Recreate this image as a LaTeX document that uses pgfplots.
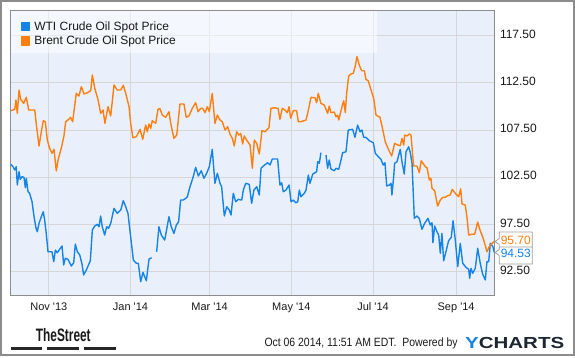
\documentclass[border=0pt]{standalone}
\usepackage{fontspec}
\setmainfont{Liberation Sans}
\usepackage{pgfplots}
\pgfplotsset{compat=1.18}
\definecolor{wti}{RGB}{22,132,230}
\definecolor{brent}{RGB}{255,127,14}
\definecolor{plotbg}{RGB}{234,240,251}
\definecolor{gridc}{RGB}{214,214,214}
\definecolor{framec}{RGB}{140,140,140}
\definecolor{ydark}{RGB}{27,38,49}

\pgfplotstableread{
d v
2.6 103.87
4.3 103.62
5.6 103.27
6.7 103.62
7.5 101.68
8.8 103.09
9.7 102.28
11.0 102.56
12.5 102.49
13.5 101.39
14.2 102.39
15.5 100.97
16.7 100.80
18.5 99.91
20.0 98.32
21.5 97.09
22.4 96.73
23.7 97.62
25.4 98.32
26.9 98.85
27.9 97.97
29.1 96.56
30.4 94.61
33.4 94.61
34.7 93.56
35.9 94.79
37.3 94.51
39.1 94.87
40.9 95.22
42.1 93.21
43.3 93.92
45.3 93.81
47.8 93.10
49.6 93.45
50.8 95.43
52.3 94.61
54.1 94.27
55.8 93.31
57.0 92.15
59.0 92.68
62.0 93.66
63.5 96.91
65.3 97.34
67.2 97.52
68.5 97.26
69.7 98.40
70.9 97.26
72.7 96.38
74.2 97.26
75.6 97.09
77.2 97.62
79.7 99.21
82.1 98.68
84.7 99.03
86.6 100.02
88.4 99.38
90.1 98.68
92.1 96.20
94.1 93.74
96.3 93.39
97.8 93.39
99.6 91.44
101.3 92.43
103.8 91.54
105.8 93.84
107.8 93.98
109.6 nan
111.5 94.61
113.2 97.26
115.0 96.38
117.5 95.85
120.7 98.32
122.4 97.26
124.4 96.56
126.2 97.44
127.9 97.79
129.4 100.09
131.4 100.09
133.2 100.27
134.4 100.44
136.4 101.50
138.8 102.56
140.6 103.55
142.6 102.63
144.8 103.19
146.8 102.39
148.8 102.92
150.8 103.62
153.0 105.46
155.0 101.86
156.8 102.92
158.8 101.86
160.0 101.50
162.0 98.40
163.8 99.38
165.7 99.03
167.0 98.50
168.7 100.80
170.5 99.91
172.4 100.16
175.0 100.09
176.2 101.15
178.0 101.86
180.6 101.75
182.4 99.74
184.1 101.15
186.2 101.50
188.1 100.62
189.4 103.45
191.1 103.69
193.1 103.90
194.4 104.04
196.1 103.80
197.8 104.43
201.8 104.43
203.5 101.68
204.8 101.92
206.0 100.97
208.0 101.15
210.3 101.68
211.8 99.91
213.5 100.09
215.3 99.80
216.8 99.91
218.0 101.15
219.2 100.44
221.7 100.80
223.0 101.15
224.7 102.74
225.9 101.86
228.0 102.84
229.7 102.98
230.9 103.09
231.7 104.15
232.9 103.98
234.1 105.10
236.0 nan
237.9 104.86
239.1 103.45
240.3 104.33
241.6 103.37
244.1 103.19
245.3 103.45
247.4 103.34
249.1 104.33
250.3 105.10
252.8 105.20
254.5 107.50
257.8 107.58
259.5 106.73
261.5 108.03
263.3 107.32
264.7 107.50
266.0 106.73
267.7 106.73
270.2 106.37
273.2 106.16
274.7 105.04
276.5 104.75
278.9 104.40
280.6 103.80
281.9 104.04
283.2 101.57
285.1 101.68
286.4 101.86
287.1 100.62
288.4 102.56
289.1 103.98
290.9 104.15
293.3 105.46
294.6 104.15
296.3 102.84
297.6 105.20
299.6 105.73
300.8 105.10
302.1 103.98
303.8 98.15
305.8 98.40
307.5 98.15
309.5 96.99
311.5 97.62
314.0 98.15
315.7 97.44
317.0 97.69
317.7 95.57
319.0 97.34
320.7 96.73
322.0 96.38
323.2 94.45
324.4 96.56
325.7 93.66
327.7 94.79
329.4 95.78
331.4 96.14
332.7 97.90
334.4 95.85
336.2 93.03
338.1 95.50
339.9 93.39
342.4 92.96
344.4 92.75
345.1 91.80
346.1 92.86
347.4 92.33
349.3 92.86
351.1 94.98
353.0 93.39
354.8 92.25
356.8 91.62
358.0 93.56
359.3 93.56
360.5 95.50
362.5 95.14
363.5 94.53
}\wtidata

\pgfplotstableread{
d v
2.6 109.55
5.6 109.70
6.5 110.68
7.5 109.27
8.8 111.74
10.0 110.75
12.3 110.33
14.2 110.97
16.0 109.62
20.5 109.62
22.2 107.50
23.7 105.81
25.4 107.32
26.9 108.49
28.4 108.38
29.9 106.44
31.4 105.67
33.4 105.04
34.9 105.46
36.6 103.16
37.9 104.33
40.3 105.57
42.3 106.87
43.6 108.38
45.9 108.64
47.3 108.85
48.8 108.38
51.5 111.39
53.5 111.10
55.3 112.09
57.3 111.32
59.7 111.45
62.3 111.66
63.5 113.33
65.3 111.92
67.7 110.75
69.7 109.27
71.5 109.62
72.9 108.21
75.2 109.97
77.2 108.99
79.7 112.27
82.1 111.74
84.7 111.74
86.6 112.24
88.4 111.39
90.9 109.97
92.1 108.21
93.8 106.69
96.3 106.79
99.1 107.58
101.1 106.52
103.3 108.03
104.5 107.32
105.8 108.14
107.1 107.68
108.2 108.49
110.8 108.21
112.5 109.70
114.0 109.76
115.7 109.09
118.2 108.85
120.7 109.44
122.0 108.21
124.4 106.62
126.5 106.97
128.9 110.26
131.9 110.26
133.6 108.85
135.6 108.99
138.1 109.80
140.6 110.39
142.4 109.44
144.4 109.80
145.9 109.80
147.6 109.34
149.3 109.97
150.8 109.44
153.0 111.39
155.0 108.21
156.8 109.09
158.8 108.56
160.5 108.38
162.5 107.50
164.5 107.85
166.2 107.08
168.0 106.62
169.4 105.81
171.2 107.32
172.9 106.97
174.2 107.15
175.7 106.02
176.9 106.87
178.7 106.44
181.2 105.91
182.9 103.45
184.4 106.44
186.2 106.09
188.1 104.96
190.1 107.43
192.4 107.32
195.3 107.75
196.8 109.80
199.1 109.86
202.1 109.80
203.5 108.64
205.3 109.80
207.3 109.62
209.0 109.34
210.3 109.97
211.5 108.74
213.5 109.55
216.0 109.55
217.2 108.38
219.2 108.38
223.0 108.56
225.0 109.80
226.7 110.97
229.7 110.92
230.9 110.39
232.1 111.39
234.1 110.33
236.6 110.15
239.1 109.27
240.3 110.04
241.6 109.34
244.1 109.41
245.3 108.91
246.6 109.06
247.4 108.56
249.8 109.97
251.1 110.61
252.3 109.34
253.3 111.39
254.8 113.22
256.5 113.43
258.3 113.51
259.7 114.28
261.0 115.27
262.7 114.39
264.5 113.78
266.5 113.78
267.7 112.87
269.4 112.72
271.5 111.74
273.5 110.86
275.2 109.09
278.2 108.85
280.2 107.58
282.1 106.26
284.7 105.38
286.9 104.75
289.1 106.09
291.6 105.91
293.3 105.84
294.6 106.62
295.9 105.91
296.6 106.97
298.3 106.87
300.0 107.08
301.3 106.97
303.3 103.69
305.8 103.69
307.5 102.98
309.0 104.25
310.3 103.98
312.0 103.62
313.3 103.51
315.0 102.21
316.2 102.39
317.0 101.33
319.0 101.07
321.2 99.45
323.2 100.09
325.0 100.38
326.9 100.38
328.7 100.55
330.6 100.62
332.1 101.22
334.4 100.80
336.9 100.44
338.4 101.29
339.4 99.67
341.8 99.56
343.1 98.26
344.4 96.38
346.8 96.46
348.9 96.49
351.1 97.76
353.0 96.84
354.8 96.20
356.3 95.50
358.0 94.62
359.7 95.14
361.8 95.50
363.5 95.70
}\brentdata

\begin{document}
\begin{tikzpicture}
\path[use as bounding box] (0pt,0pt) rectangle (575pt,358pt);
\draw[framec, line width=1.3pt] (1pt,3pt) rectangle (574pt,357pt);
\begin{axis}[
  at={(10.7pt,62.5pt)}, anchor=south west,
  width=483.6pt, height=284.8pt, scale only axis,
  xmin=2.57, xmax=363.5, ymin=89.98, ymax=120.14,
  axis background/.style={fill=plotbg},
  axis line style={framec, line width=0.9pt},
  grid=major, major grid style={gridc, line width=0.8pt},
  major tick length=0pt,
  unbounded coords=jump,
  xtick={31,92,151,212,273,335},
  xticklabels={Nov \textquotesingle13, Jan \textquotesingle14, Mar \textquotesingle14, May \textquotesingle14, Jul \textquotesingle14, Sep \textquotesingle14},
  x tick label style={font=\fontsize{11}{13}\selectfont, anchor=base, inner sep=0pt, yshift=-15.5pt, text=black!90},
  ytick={92.5,97.5,102.5,107.5,112.5,117.5},
  yticklabel pos=right,
  yticklabel={\pgfmathprintnumber[fixed,fixed zerofill,precision=2,assume math mode=true]{\tick}},
  y tick label style={font=\fontsize{12}{14}\selectfont, anchor=west, inner sep=0pt, xshift=5.5pt, yshift=1.5pt, text=black!90},
  legend style={at={(0,1)}, anchor=north west, xshift=10pt, yshift=-10.5pt, draw=none, fill=none, inner sep=0pt, row sep=4.5pt, font=\fontsize{12}{14}\selectfont, nodes={inner sep=0pt, text=black!90}, /tikz/every odd column/.append style={column sep=4pt}},
  legend cell align=left,
  legend image code/.code={\fill[#1] (0pt,-4pt) rectangle (8pt,4pt);},
]
\fill[white, fill opacity=0.5] (rel axis cs:0,0.8525) rectangle (rel axis cs:0.7575,1);
\addplot[wti, line width=1.4pt, line join=round] table[x=d, y=v] {\wtidata};
\addlegendentry{WTI Crude Oil Spot Price}
\addplot[brent, line width=1.4pt, line join=round] table[x=d, y=v] {\brentdata};
\addlegendentry{Brent Crude Oil Spot Price}
\end{axis}
% end-value labels
\draw[gray!75, fill=white, line width=0.8pt] (532.3pt,126pt) -- (499.3pt,126pt) -- (499.3pt,119.5pt) -- (495pt,116.5pt) -- (499.3pt,113.5pt) -- (499.3pt,110pt) -- (532.3pt,110pt) -- cycle;
\node[anchor=center, inner sep=0pt, text=brent, font=\fontsize{12}{14}\selectfont] at (515.8pt,117.5pt) {95.70};
\draw[gray!75, fill=white, line width=0.8pt] (532.3pt,111pt) -- (499.3pt,111pt) -- (499.3pt,108.5pt) -- (495pt,105.5pt) -- (499.3pt,102.5pt) -- (499.3pt,94pt) -- (532.3pt,94pt) -- cycle;
\node[anchor=center, inner sep=0pt, text=wti, font=\fontsize{12}{14}\selectfont] at (515.8pt,104.5pt) {94.53};
% footer
\node[inner sep=0pt, text=black!90] at (63.3pt,23.1pt) {\scalebox{0.66}[1]{\fontsize{18}{20}\selectfont\bfseries TheStreet}};
\fill[black!85] (10.7pt,8pt) rectangle (42.3pt,11.3pt);
\fill[black!85] (47.3pt,8pt) rectangle (79pt,11.3pt);
\fill[black!85] (84pt,8pt) rectangle (115.7pt,11.3pt);
\node[anchor=west, inner sep=0pt, text=black!90] at (264.3pt,14.7pt) {\scalebox{0.87}[1]{\fontsize{12}{14}\selectfont Oct 06 2014, 11:51 AM EDT.\ \ Powered by}};
\node[anchor=west, inner sep=0pt] at (465pt,14.7pt) {\scalebox{1.28}[1]{\fontsize{16}{18}\selectfont\bfseries\textcolor{wti}{Y}\textcolor{ydark}{CHARTS}}};
\end{tikzpicture}
\end{document}
